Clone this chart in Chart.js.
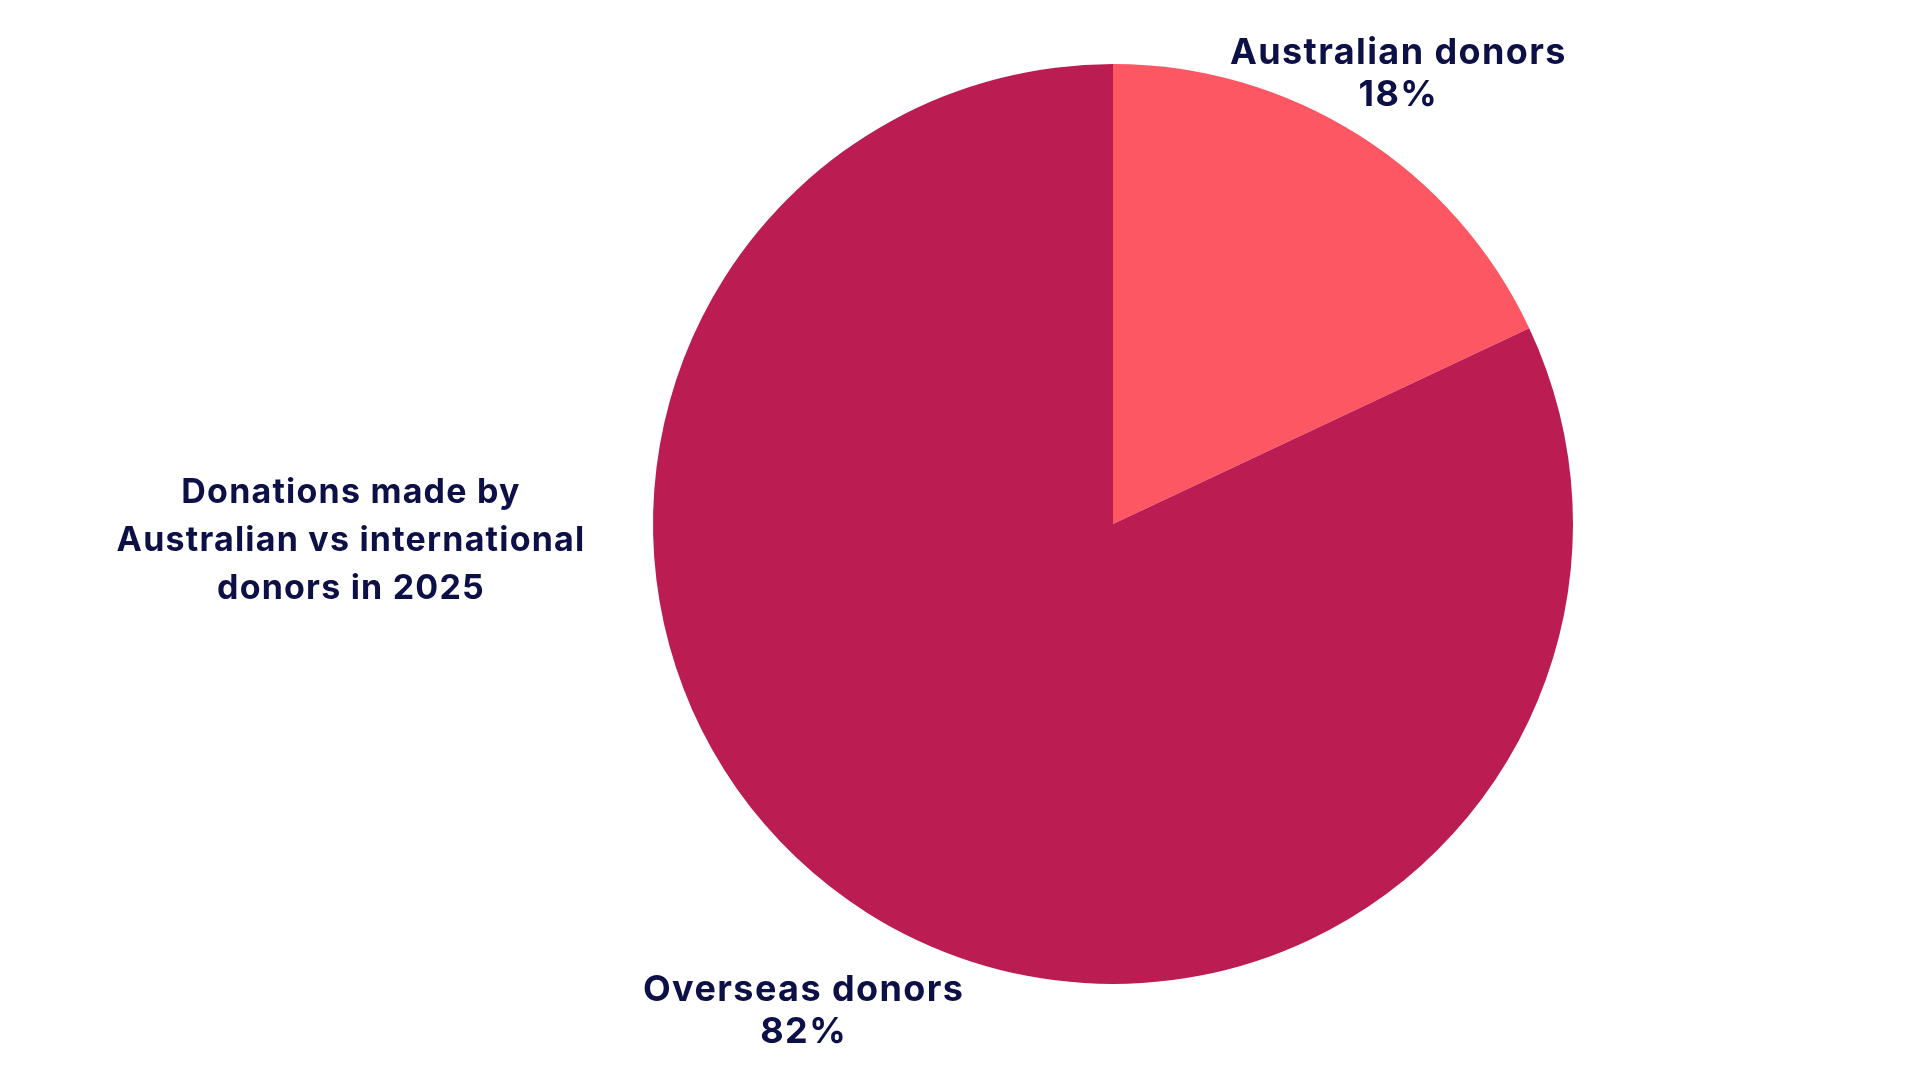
<!DOCTYPE html>
<html lang="en">
<head>
    <meta charset="UTF-8">
    <title>Donations made by Australian vs international donors in 2025</title>
    <script src="https://cdn.jsdelivr.net/npm/chart.js@4.4.1/dist/chart.umd.min.js"></script>
    <style>
        html, body { margin: 0; padding: 0; background: #ffffff; }
        canvas { display: block; }
    </style>
</head>
<body>
    <canvas id="chart" width="1920" height="1080"></canvas>
    <script>
        const labels = ['Australian donors', 'Overseas donors'];
        const shares = [18, 82];
        const sliceColours = ['#fd5763', '#bb1c51'];
        const titleLines = ['Donations made by', 'Australian vs international', 'donors in 2025'];

        const inkColour = '#0c1046';
        const fontFamily = 'Inter, "Open Sans", sans-serif';

        // label distance from the pie centre, as a multiple of the radius
        const labelReach = [1.158, 1.255];

        const sliceLabels = {
            id: 'sliceLabels',
            afterDraw(chart) {
                const ctx = chart.ctx;
                const arcs = chart.getDatasetMeta(0).data;
                ctx.save();
                ctx.fillStyle = inkColour;
                ctx.textAlign = 'center';
                ctx.textBaseline = 'middle';
                ctx.font = '700 36px ' + fontFamily;
                ctx.letterSpacing = '1.4px';
                arcs.forEach((arc, i) => {
                    const mid = (arc.startAngle + arc.endAngle) / 2;
                    const d = arc.outerRadius * labelReach[i];
                    const x = arc.x + Math.cos(mid) * d;
                    const y = arc.y + Math.sin(mid) * d;
                    ctx.fillText(labels[i], x, y - 21);
                    ctx.fillText(shares[i] + '%', x, y + 21);
                });

                // title on the left of the pie
                ctx.font = '700 34px ' + fontFamily;
                ctx.letterSpacing = '1.2px';
                ctx.textBaseline = 'alphabetic';
                titleLines.forEach((line, i) => {
                    ctx.fillText(line, 351, 503 + i * 48);
                });
                ctx.restore();
            }
        };

        const ctx = document.getElementById('chart').getContext('2d');
        const myChart = new Chart(ctx, {
            type: 'pie',
            data: {
                labels: labels,
                datasets: [{
                    data: shares,
                    backgroundColor: sliceColours,
                    borderWidth: 0
                }]
            },
            options: {
                responsive: false,
                animation: false,
                layout: { padding: { top: 64, bottom: 96, left: 306, right: 0 } },
                plugins: {
                    legend: { display: false },
                    tooltip: { enabled: false }
                }
            },
            plugins: [sliceLabels]
        });
    </script>
</body>
</html>
